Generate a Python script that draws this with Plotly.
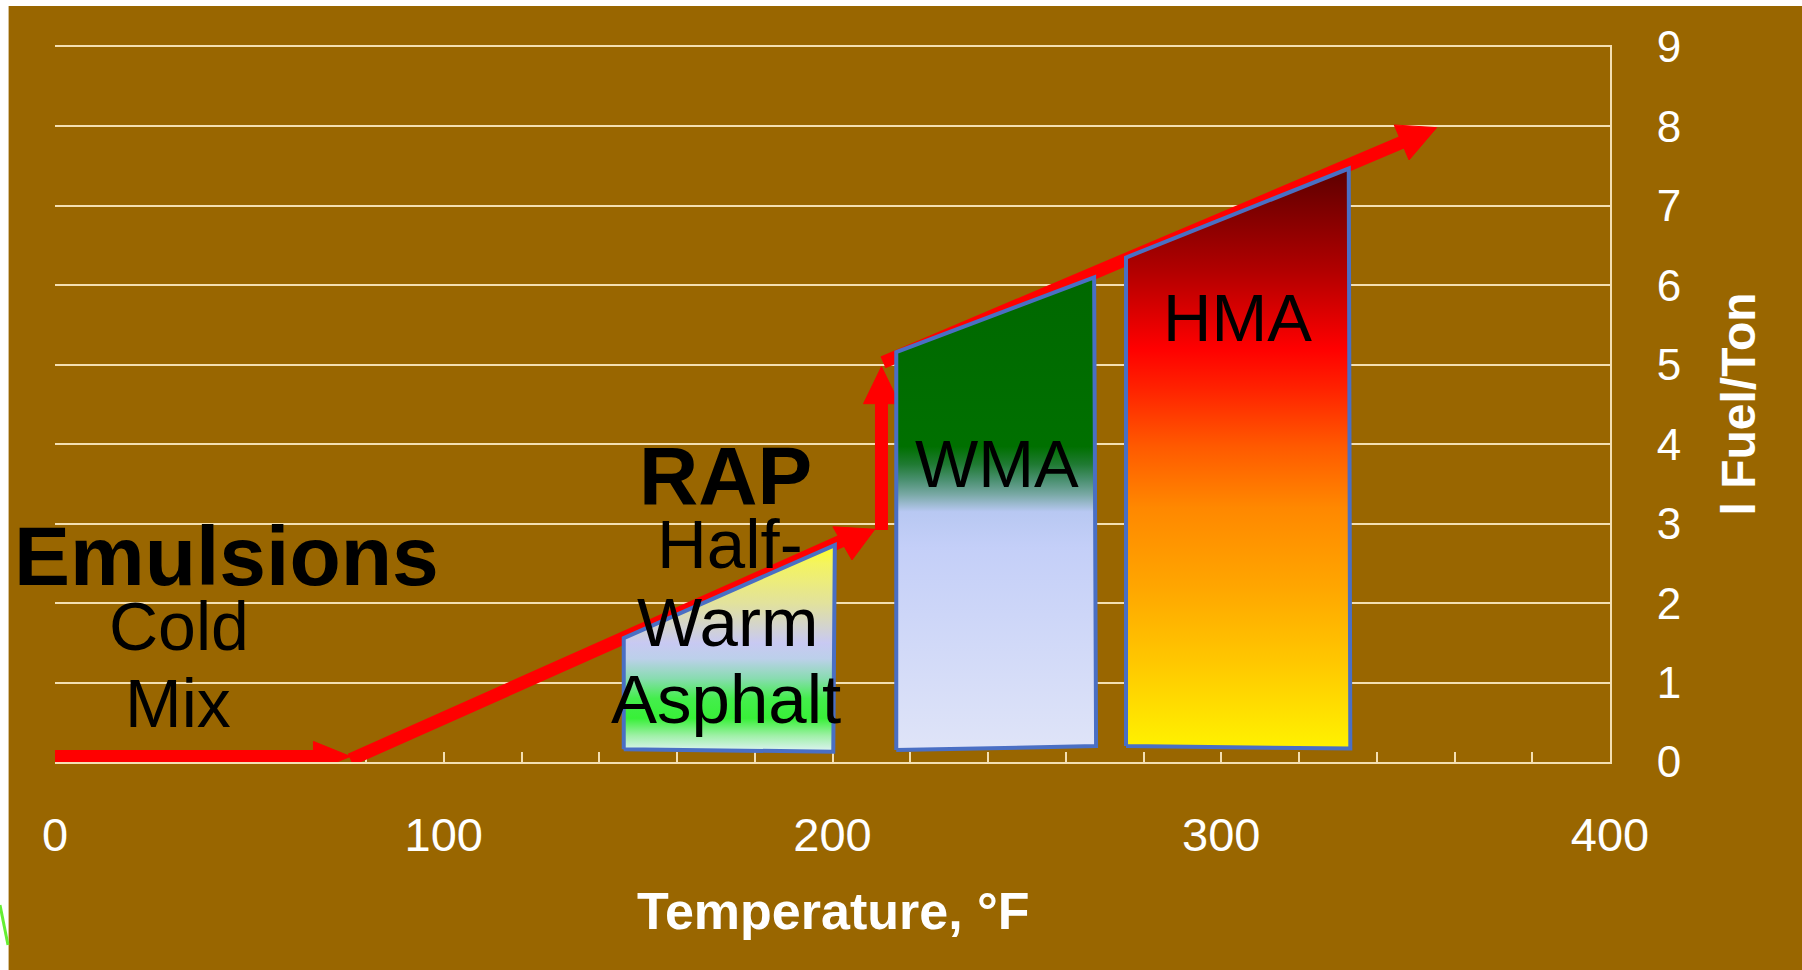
import math
import plotly.graph_objects as go

# ---------------- data ----------------
x_range = [0, 400]
y_range = [0, 9]
x_tick_vals = [0, 100, 200, 300, 400]
x_tick_text = ["0", "100", "200", "300", "400"]
y_tick_vals = [0, 1, 2, 3, 4, 5, 6, 7, 8, 9]
y_tick_text = ["0", "1", "2", "3", "4", "5", "6", "7", "8", "9"]

# mix regions: temperature (°F) vs fuel per ton
hwa_x = [146.3, 146.3, 200.6, 200.2]
hwa_y = [0.16, 1.56, 2.73, 0.13]
wma_x = [216.4, 216.4, 267.3, 267.8]
wma_y = [0.15, 5.16, 6.10, 0.20]
hma_x = [275.5, 275.5, 332.8, 333.2]
hma_y = [0.20, 6.35, 7.47, 0.17]

# red trend path: segments (x0, y0) -> (x1, y1), with arrowhead at end or not
seg_x0 = [0.0, 76.0, 205.5, 212.6, 213.0]
seg_y0 = [0.07, 0.03, 2.95, 2.92, 5.03]
seg_x1 = [76.0, 204.0, 205.0, 212.6, 355.4]
seg_y1 = [0.07, 2.82, 2.543, 4.976, 7.985]
seg_head = [True, False, True, True, True]
head_len = [37, 0, 32, 37, 38]
head_wid = [30, 0, 42, 36, 38]

# labels
label_text = ["Emulsions", "RAP", "Cold", "Mix", "Half-", "Warm", "Asphalt", "WMA", "HMA"]
label_x = [44.1, 172.6, 31.9, 31.6, 173.6, 173.0, 172.7, 242.3, 304.2]
label_y = [2.59, 3.61, 1.71, 0.74, 2.74, 1.75, 0.79, 3.76, 5.60]
label_bold = [True, True, False, False, False, False, False, False, False]
label_size = [84, 82, 68, 68, 69, 69, 69, 67, 67]

x_title = "Temperature, °F"
y_title = "l Fuel/Ton"

# ---------------- style ----------------
W, H = 1802, 970
ML, MR, MT, MB = 55, 192, 47, 208
PW, PH = W - ML - MR, H - MT - MB
BROWN = "#996600"
GRID = "#F3DFB2"
RED = "#FF0000"
OUTLINE = "#4A6FC4"
FONT = "Liberation Sans, Arial, sans-serif"

kx = PW / (x_range[1] - x_range[0])
ky = PH / (y_range[1] - y_range[0])

fig = go.Figure()

# red path (below regions)
for i in range(len(seg_x0)):
    x0, y0, x1, y1 = seg_x0[i], seg_y0[i], seg_x1[i], seg_y1[i]
    dx, dy = (x1 - x0) * kx, (y1 - y0) * ky
    n = math.hypot(dx, dy)
    ux, uy = dx / n, dy / n
    if seg_head[i]:
        L, Wd = head_len[i], head_wid[i]
        bx, by = -L * ux, -L * uy
        px, py = -uy, ux
        hx = [x1, x1 + (bx + Wd / 2 * px) / kx, x1 + (bx - Wd / 2 * px) / kx, x1]
        hy = [y1, y1 + (by + Wd / 2 * py) / ky, y1 + (by - Wd / 2 * py) / ky, y1]
        lx_end = x1 + (bx + 3 * ux) / kx
        ly_end = y1 + (by + 3 * uy) / ky
        if n > L + 1:
            fig.add_trace(go.Scatter(x=[x0, lx_end], y=[y0, ly_end], mode="lines",
                                     line=dict(color=RED, width=13), hoverinfo="skip"))
        fig.add_trace(go.Scatter(x=hx, y=hy, mode="lines", fill="toself",
                                 fillcolor=RED, line=dict(color=RED, width=1),
                                 hoverinfo="skip"))
    else:
        fig.add_trace(go.Scatter(x=[x0, x1], y=[y0, y1], mode="lines",
                                 line=dict(color=RED, width=13), hoverinfo="skip"))


def scale(stops, start, stop):
    return [[(y - start) / (stop - start), c] for y, c in stops]


hwa_stops = [(0.13, "#dff3f5"), (0.33, "#a0f0a8"), (0.55, "#38f038"), (0.8, "#44ee4c"),
             (1.05, "#88dcb0"), (1.3, "#bcd0ea"), (1.5, "#c8c9f2"), (2.0, "#e2e29c"),
             (2.5, "#f4f460"), (2.73, "#ffff22")]
wma_stops = [(0.15, "#dfe4f8"), (2.7, "#c4cff8"), (3.15, "#b8c8f2"), (3.37, "#78a8a4"),
             (3.55, "#4a9070"), (3.75, "#1f7a32"), (3.97, "#007000"), (6.10, "#006800")]
hma_stops = [(0.17, "#fff200"), (1.24, "#ffc800"), (2.23, "#ffa500"), (3.2, "#ff8800"),
             (3.97, "#ff5a00"), (4.7, "#ff2200"), (5.2, "#ff0000"), (6.2, "#b00000"),
             (7.47, "#5c0000")]

for xs, ys, stops in [(hwa_x, hwa_y, hwa_stops), (wma_x, wma_y, wma_stops), (hma_x, hma_y, hma_stops)]:
    start, stop = stops[0][0], stops[-1][0]
    fig.add_trace(go.Scatter(
        x=xs + [xs[0]], y=ys + [ys[0]], mode="lines", fill="toself",
        line=dict(color=OUTLINE, width=4),
        fillgradient=dict(type="vertical", colorscale=scale(stops, start, stop),
                          start=start, stop=stop),
        hoverinfo="skip"))

annotations = []
for t, x, y, b, s in zip(label_text, label_x, label_y, label_bold, label_size):
    annotations.append(dict(text=t, x=x, y=y, xref="x", yref="y", showarrow=False,
                            xanchor="center", yanchor="middle", borderpad=0,
                            font=dict(family=FONT, size=s, color="black",
                                      weight="bold" if b else "normal")))

annotations.append(dict(text=y_title, textangle=-90, xref="paper", yref="paper",
                        x=(1738 - ML) / PW, y=0.5, showarrow=False,
                        xanchor="center", yanchor="middle",
                        font=dict(family=FONT, size=48, color="white", weight="bold")))
annotations.append(dict(text=x_title, xref="paper", yref="paper",
                        x=(833.5 - ML) / PW, y=(MT + PH - 911.5) / PH, showarrow=False,
                        xanchor="center", yanchor="middle",
                        font=dict(family=FONT, size=52, color="white", weight="bold")))


def px2paper_x(p):
    return (p - ML) / PW


def px2paper_y(p):
    return (MT + PH - p) / PH


shapes = [
    dict(type="rect", xref="paper", yref="paper", x0=px2paper_x(0), x1=px2paper_x(8.6),
         y0=px2paper_y(H), y1=px2paper_y(0), fillcolor="white", line=dict(width=0)),
    dict(type="rect", xref="paper", yref="paper", x0=px2paper_x(0), x1=px2paper_x(W),
         y0=px2paper_y(6), y1=px2paper_y(0), fillcolor="white", line=dict(width=0)),
    dict(type="line", xref="paper", yref="paper", x0=px2paper_x(0), y0=px2paper_y(905),
         x1=px2paper_x(8), y1=px2paper_y(945), line=dict(color="#66ee33", width=3)),
]

fig.update_layout(
    width=W, height=H,
    margin=dict(l=ML, r=MR, t=MT, b=MB, pad=0),
    paper_bgcolor=BROWN, plot_bgcolor=BROWN,
    showlegend=False, hovermode=False,
    annotations=annotations, shapes=shapes,
    xaxis=dict(range=x_range, showgrid=False, zeroline=False,
               showline=True, mirror=True, linecolor=GRID, linewidth=2,
               layer="below traces",
               tickmode="array", tickvals=x_tick_vals, ticktext=x_tick_text,
               ticks="inside", ticklen=10, tickwidth=2, tickcolor=GRID,
               minor=dict(ticks="inside", dtick=20, ticklen=10, tickwidth=2,
                          tickcolor=GRID, showgrid=False),
               tickfont=dict(family=FONT, size=47, color="white"),
               ticklabelstandoff=31, fixedrange=True),
    yaxis=dict(range=y_range, side="right", showgrid=True, gridcolor=GRID, gridwidth=2,
               zeroline=False, showline=True, linecolor=GRID, linewidth=2,
               layer="below traces",
               tickmode="array", tickvals=y_tick_vals, ticktext=y_tick_text,
               ticks="", tickfont=dict(family=FONT, size=44, color="white"),
               ticklabelstandoff=36, fixedrange=True),
)

fig.write_html("out.html", config=dict(displayModeBar=False))
